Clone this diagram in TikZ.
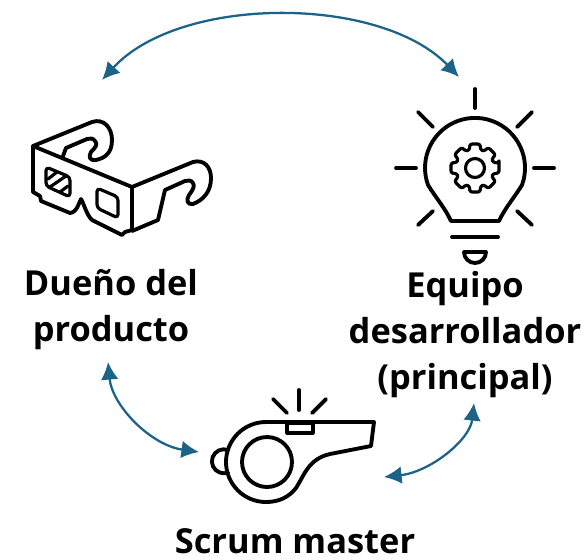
\documentclass[tikz,border=0pt]{standalone}
\usepackage{fontspec}
\setmainfont{Open Sans}
\usepackage{tikz}
\usetikzlibrary{arrows.meta}
\definecolor{cycle}{HTML}{1B6487}
\tikzstyle{diagram}=[x=0.02cm, y=-0.02cm, line cap=round, line join=round]
\tikzstyle{icon}=[line width=2.2pt, draw=black]
\tikzstyle{thinicon}=[line width=1.8pt, draw=black]
\tikzstyle{role}=[inner sep=0pt, align=center, font=\fontsize{19.6}{26.2}\selectfont\bfseries]
\tikzstyle{edge}=[{Latex[length=10pt,width=10pt]}-{Latex[length=10pt,width=10pt]}, line width=1.3pt, draw=cycle]

\begin{document}
\begin{tikzpicture}[diagram]
	\useasboundingbox (0,0) rectangle (584,559);
	% glasses
	\draw[icon] (33,146) -- (132,187) -- (132,230) -- (125,232) -- (122,235) -- (92,220) .. controls (86,214) and (85,206) .. (81,199) .. controls (78,205) and (77,212) .. (70,213) -- (41,201) -- (40,196) -- (33,192) -- cycle;
	\draw[icon] (33,146) -- (92,122) .. controls (104,118) and (112,128) .. (112,140) .. controls (112,153) and (105,158) .. (96,160) .. controls (90,161) and (88,157) .. (91,152) .. controls (96,147) and (98,144) .. (95,141) .. controls (93,138) and (90,138) .. (87,139) -- (66,148) -- (63,156);
	\draw[icon] (132,187) -- (193,162) .. controls (204,159) and (211,167) .. (211,178) .. controls (211,192) and (203,200) .. (193,204) .. controls (187,205) and (186,200) .. (189,195) .. controls (193,190) and (195,186) .. (193,183) .. controls (191,180) and (188,180) .. (185,181) -- (165,190) -- (158,220) -- (132,231);
	\draw[thinicon, rounded corners=2pt] (46,167) -- (70,177) -- (70,197) -- (46,186) -- cycle;
	\draw[thinicon] (48,179) -- (57,172);
	\draw[thinicon] (50,187) -- (66,176);
	\draw[thinicon] (60,192) -- (68,186);
	\draw[thinicon, rounded corners=2pt] (97,188) -- (118,197) -- (118,218) -- (97,208) -- cycle;
	% lamp
	\draw[icon] (451,221) -- (499,221) .. controls (505,208) and (514,198) .. (522,185) arc (20:-200:50) .. controls (436,198) and (445,208) .. (451,221) -- cycle;
	\draw[icon] (475,89) -- (475,108);
	\draw[icon] (396,168) -- (416,168);
	\draw[icon] (534,168) -- (554,168);
	\draw[icon] (418,112) -- (433,127);
	\draw[icon] (532,112) -- (517,127);
	\draw[icon] (433,211) -- (418,225);
	\draw[icon] (517,211) -- (532,225);
	\draw[icon] (452,237) -- (498,237);
	\draw[icon] (464,252) -- (486,252) arc (0:180:11) -- cycle;
	\draw[thinicon] (475,168) circle (9.5);
	\begin{scope}[shift={(475,168)}]
		\draw[thinicon, rounded corners=1.2pt] (-12:24.5)
			\foreach \a in {0,45,...,315} {
				-- (\a-12:24.5) -- (\a+12:24.5) -- (\a+17:19) -- (\a+28:19)
			} -- cycle;
	\end{scope}
	% whistle
	\draw[icon] (265,422) -- (374,422) -- (371,446) -- (330,454) .. controls (308,459) and (304,476) .. (296,488) .. controls (289,497) and (279,502) .. (266,502) arc (90:270:40) -- cycle;
	\draw[icon] (267,462) circle (25);
	\draw[icon] (228,450) arc (-70:-290:12);
	\draw[thinicon] (287,423) rectangle (313,433);
	\draw[icon] (299,390) -- (299,410);
	\draw[icon] (273,399) -- (287,413);
	\draw[icon] (326,399) -- (312,413);
	% roles
	\node[role] (owner) at (111,310) {Dueño del\\producto};
	\node[role] (team) at (465,335) {Equipo\\desarrollador\\(principal)};
	\node[role] (master) at (295,541) {Scrum master};
	% cycle
	\coordinate (c1) at (102,80);
	\coordinate (c2) at (459,77);
	\coordinate (c3) at (108,362);
	\coordinate (c4) at (199,452);
	\coordinate (c5) at (474,403);
	\coordinate (c6) at (384,477);
	\draw[edge] (c1) .. controls (180,-5) and (380,-5) .. (c2);
	\draw[edge] (c3) .. controls (112,405) and (150,445) .. (c4);
	\draw[edge] (c5) .. controls (470,440) and (430,472) .. (c6);
\end{tikzpicture}
\end{document}
